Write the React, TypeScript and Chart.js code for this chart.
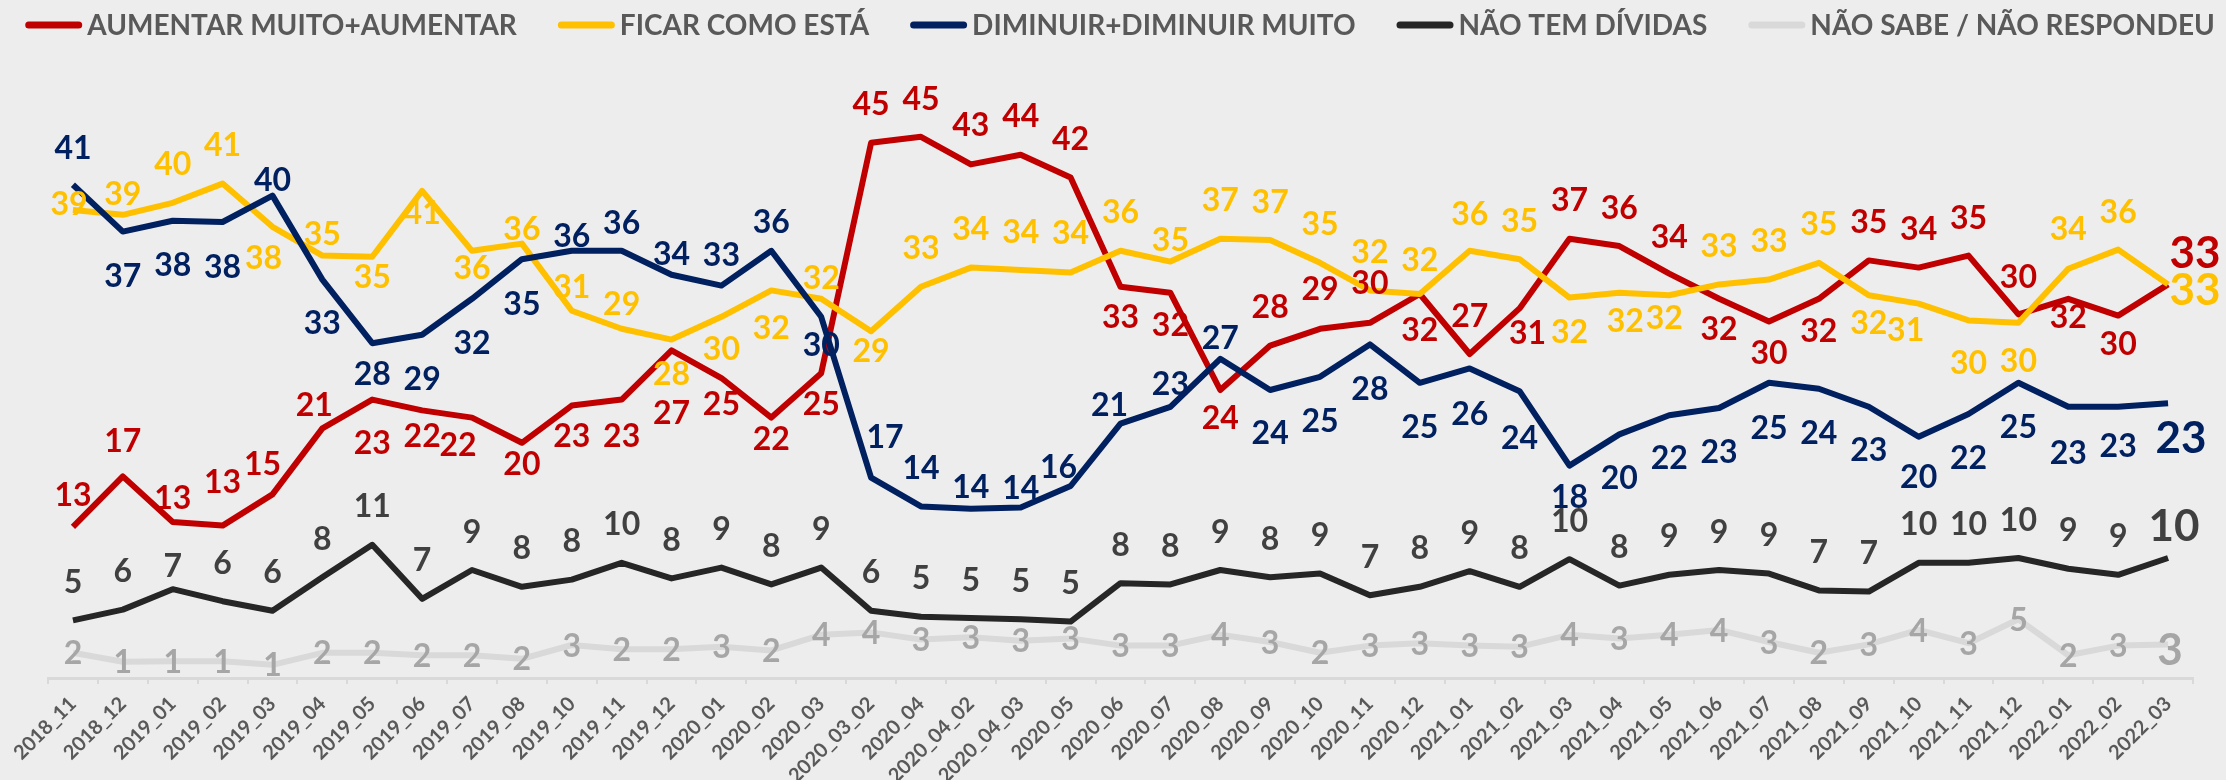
import React, { useEffect, useRef } from "react";
import { Chart, registerables } from "chart.js";

Chart.register(...registerables);

// ---------- DATA ----------
const categories = [
  "2018_11", "2018_12", "2019_01", "2019_02", "2019_03", "2019_04", "2019_05", "2019_06",
  "2019_07", "2019_08", "2019_10", "2019_11", "2019_12", "2020_01", "2020_02", "2020_03",
  "2020_03_02", "2020_04", "2020_04_02", "2020_04_03", "2020_05", "2020_06", "2020_07",
  "2020_08", "2020_09", "2020_10", "2020_11", "2020_12", "2021_01", "2021_02", "2021_03",
  "2021_04", "2021_05", "2021_06", "2021_07", "2021_08", "2021_09", "2021_10", "2021_11",
  "2021_12", "2022_01", "2022_02", "2022_03",
];

const aumentar = [
  12.6, 16.8, 13.0, 12.7, 15.3, 20.8, 23.2, 22.3, 21.7, 19.6, 22.7, 23.2, 27.3, 25.0, 21.7,
  25.4, 44.6, 45.1, 42.8, 43.6, 41.7, 32.6, 32.1, 24.0, 27.7, 29.1, 29.6, 32.0, 27.0, 30.8,
  36.6, 36.0, 33.7, 31.6, 29.7, 31.6, 34.8, 34.2, 35.2, 30.3, 31.6, 30.2, 32.8,
];

const ficar = [
  39.0, 38.6, 39.6, 41.2, 37.6, 35.2, 35.1, 40.6, 35.6, 36.2, 30.6, 29.1, 28.2, 30.1, 32.3,
  31.6, 28.9, 32.6, 34.2, 34.0, 33.8, 35.6, 34.7, 36.6, 36.5, 34.6, 32.3, 32.0, 35.6, 34.9,
  31.7, 32.1, 31.9, 32.8, 33.2, 34.6, 31.9, 31.2, 29.8, 29.6, 34.1, 35.7, 32.8,
];

const diminuir = [
  41.1, 37.2, 38.1, 38.0, 40.2, 33.2, 27.9, 28.6, 31.6, 34.9, 35.6, 35.6, 33.6, 32.7, 35.6,
  30.1, 16.7, 14.3, 14.1, 14.2, 16.0, 21.2, 22.6, 26.6, 24.0, 25.1, 27.8, 24.6, 25.8, 23.9,
  17.7, 20.3, 21.9, 22.5, 24.6, 24.1, 22.6, 20.1, 22.0, 24.6, 22.6, 22.6, 22.9,
];

const naoTemDividas = [
  4.8, 5.7, 7.4, 6.4, 5.6, 8.4, 11.1, 6.6, 9.0, 7.6, 8.2, 9.6, 8.3, 9.2, 7.8, 9.2, 5.6, 5.1,
  5.0, 4.9, 4.7, 7.9, 7.8, 9.0, 8.4, 8.7, 6.9, 7.6, 8.9, 7.6, 9.9, 7.7, 8.6, 9.0, 8.7, 7.3,
  7.2, 9.6, 9.6, 10.0, 9.1, 8.6, 10.0,
];

const naoSabe = [
  2.1, 1.35, 1.4, 1.4, 1.1, 2.1, 2.1, 1.9, 1.9, 1.6, 2.75, 2.4, 2.4, 2.6, 2.3, 3.6, 3.8, 3.2,
  3.4, 3.1, 3.3, 2.7, 2.7, 3.6, 3.0, 2.1, 2.7, 2.9, 2.7, 2.6, 3.6, 3.3, 3.6, 4.0, 3.0, 2.1,
  2.8, 4.0, 2.9, 4.9, 1.9, 2.7, 2.8,
];

const seriesNames = [
  "AUMENTAR MUITO+AUMENTAR",
  "FICAR COMO ESTÁ",
  "DIMINUIR+DIMINUIR MUITO",
  "NÃO TEM DÍVIDAS",
  "NÃO SABE / NÃO RESPONDEU",
];

// ---------- LABEL PLACEMENT (vertical / horizontal offsets of each value label) ----------
const N = categories.length;
const sparse = (entries: Record<number, number>, base = 0) =>
  Array.from({ length: N }, (_, i) => (entries[i] !== undefined ? entries[i] : base));

const aumentarLabelDy = [
  -32, -36, -25, -44, -31, -24, 43, 25, 27, 21, 30, 36, 62, 25, 21, 30, -39, -38, -40, -39,
  -39, 30, 32, 27, -39, -40, -40, 35, -39, 24, -39, -39, -37, 30, 31, 32, -39, -39, -38, -38,
  18, 28, -32,
];
const ficarLabelDy = [
  -7, -21, -39, -39, 31, -22, 20, 22, 17, -15, -24, -25, 34, 32, 37, -21, 19, -39, -39, -39,
  -40, -39, -22, -39, -39, -39, -39, -35, -37, -39, 34, 28, 22, -39, -39, -39, 27, 26, 42, 38,
  -40, -38, 5,
];
const diminuirLabelDy = [
  -37, 44, 44, 44, -16, 43, 30, 44, 44, 44, -15, -28, -21, -31, -29, 28, -41, -39, -22, -20,
  -20, -19, -23, -21, 42, 44, 44, 44, 45, 46, 31, 43, 42, 43, 45, 44, 43, 40, 43, 44, 46, 39, 34,
];
const naoTemLabelDy = sparse({ 2: -24, 42: -33 }, -39);
const naoSabeLabelDy = sparse({ 42: 5 }, 0);

const aumentarLabelDx = sparse({ 4: -10, 5: -8, 8: -14, 29: 8, 42: 27 });
const ficarLabelDx = sparse({ 0: -4, 4: -9, 31: 6, 32: -5, 37: -13, 42: 27 });
const diminuirLabelDx = sparse({ 16: 14, 20: -12, 21: -11, 42: 13 });
const naoTemLabelDx = sparse({ 42: 6 });
const naoSabeLabelDx = sparse({ 42: 2 });

// ---------- STYLE ----------
const BG = "#EDEDED";
const FONT = "Lato, 'Open Sans', 'DejaVu Sans', sans-serif";
const lineColors = ["#C00000", "#FFC000", "#002060", "#262626", "#D9D9D9"];
const labelColors = ["#C00000", "#FFC000", "#002060", "#404040", "#A6A6A6"];
const labelDys = [aumentarLabelDy, ficarLabelDy, diminuirLabelDy, naoTemLabelDy, naoSabeLabelDy];
const labelDxs = [aumentarLabelDx, ficarLabelDx, diminuirLabelDx, naoTemLabelDx, naoSabeLabelDx];

const backgroundPlugin = {
  id: "bgFill",
  beforeDraw(chart: any) {
    const { ctx, width, height } = chart;
    ctx.save();
    ctx.fillStyle = BG;
    ctx.fillRect(0, 0, width, height);
    ctx.restore();
  },
};

const valueLabelsPlugin = {
  id: "valueLabels",
  afterDatasetsDraw(chart: any) {
    const ctx = chart.ctx;
    ctx.save();
    chart.data.datasets.forEach((ds: any, di: number) => {
      const meta = chart.getDatasetMeta(di);
      meta.data.forEach((pt: any, i: number) => {
        const v = ds.data[i];
        const last = i === ds.data.length - 1;
        const size = last ? 44 : 32;
        ctx.font = `bold ${size}px ${FONT}`;
        ctx.fillStyle = labelColors[di];
        ctx.textAlign = "center";
        ctx.textBaseline = "alphabetic";
        const x = pt.x + labelDxs[di][i];
        const y = pt.y + labelDys[di][i] + size * 0.36;
        ctx.fillText(String(Math.round(v)), x, y);
      });
    });
    ctx.restore();
  },
};

const legendPlugin = {
  id: "lineLegend",
  afterDraw(chart: any) {
    const ctx = chart.ctx;
    const SAMPLE = 57;
    const GAP = 5;
    const ITEM_GAP = 41;
    const CY = 25;
    ctx.save();
    ctx.font = `bold 28px ${FONT}`;
    const items = chart.data.datasets.map((ds: any) => ({
      text: ds.label,
      color: ds.borderColor,
      w: ctx.measureText(ds.label).width,
    }));
    const total =
      items.reduce((s: number, it: any) => s + SAMPLE + GAP + it.w, 0) +
      ITEM_GAP * (items.length - 1);
    let x = 1120 - total / 2;
    for (const it of items) {
      ctx.strokeStyle = it.color;
      ctx.lineWidth = 7;
      ctx.lineCap = "round";
      ctx.beginPath();
      ctx.moveTo(x + 3.5, CY);
      ctx.lineTo(x + SAMPLE - 3.5, CY);
      ctx.stroke();
      ctx.fillStyle = "#595959";
      ctx.textAlign = "left";
      ctx.textBaseline = "alphabetic";
      ctx.fillText(it.text, x + SAMPLE + GAP, CY + 10);
      x += SAMPLE + GAP + it.w + ITEM_GAP;
    }
    ctx.restore();
  },
};

export default function App() {
  const canvasRef = useRef<HTMLCanvasElement | null>(null);

  useEffect(() => {
    document.body.style.margin = "0";
    document.body.style.background = BG;
    const canvas = canvasRef.current;
    if (!canvas) return;
    const values = [aumentar, ficar, diminuir, naoTemDividas, naoSabe];
    const chart = new Chart(canvas, {
      type: "line",
      data: {
        labels: categories,
        datasets: values.map((data, i) => ({
          label: seriesNames[i],
          data,
          borderColor: lineColors[i],
          backgroundColor: lineColors[i],
          borderWidth: 6,
          pointRadius: 0,
          pointHoverRadius: 0,
          tension: 0,
          fill: false,
          borderJoinStyle: "round" as const,
          borderCapStyle: "butt" as const,
          order: 5 - i,
        })),
      },
      options: {
        responsive: false,
        animation: false,
        layout: { padding: { left: 48, right: 33, top: 78, bottom: 0 } },
        plugins: {
          legend: { display: false },
          tooltip: { enabled: false },
        },
        scales: {
          x: {
            type: "category",
            offset: true,
            grid: {
              display: true,
              drawOnChartArea: false,
              drawTicks: true,
              tickLength: 6,
              color: "#D9D9D9",
              lineWidth: 2,
              offset: true,
            },
            border: { display: true, color: "#D9D9D9", width: 3 },
            ticks: {
              autoSkip: false,
              maxRotation: 45,
              minRotation: 45,
              color: "#595959",
              padding: 8,
              font: { family: FONT, weight: "bold", size: 20 },
            },
            afterFit: (scale: any) => {
              scale.height = 102;
            },
          },
          y: { display: false, min: 0, max: 50 },
        },
      },
      plugins: [backgroundPlugin, valueLabelsPlugin, legendPlugin],
    });
    return () => chart.destroy();
  }, []);

  return (
    <div style={{ width: 2226, height: 780, background: BG }}>
      <canvas ref={canvasRef} width={2226} height={780} style={{ display: "block" }} />
    </div>
  );
}
